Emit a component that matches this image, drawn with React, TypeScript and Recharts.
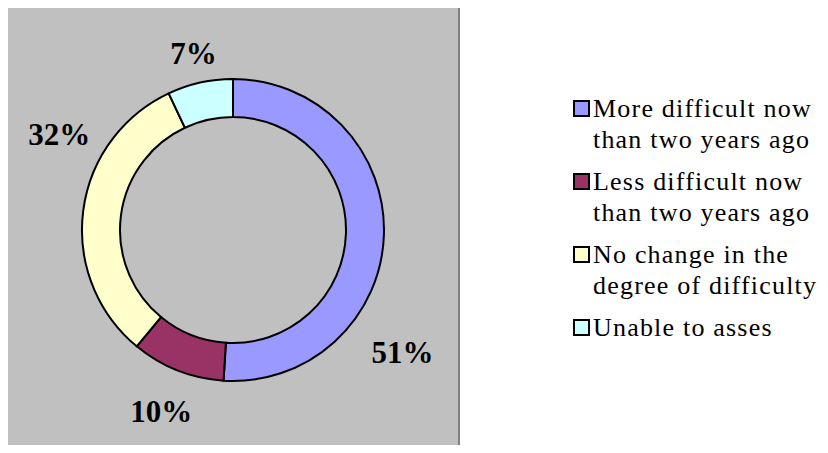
import React from "react";
import { PieChart, Pie, Cell, Legend } from "recharts";

const categories = [
  "More difficult now\nthan two years ago",
  "Less difficult now\nthan two years ago",
  "No change in the\ndegree of difficulty",
  "Unable to asses",
];
const values = [51, 10, 32, 7];
const colors = ["#9999FF", "#993366", "#FFFFCC", "#CCFFFF"];

const data = categories.map((name, i) => ({ name, value: values[i], fill: colors[i] }));

const RAD = Math.PI / 180;
// label placement tweaks (radial offset beyond outer radius, angular offset)
const labelPlace = [
  { dr: 58, da: -34 },
  { dr: 44, da: 0 },
  { dr: 47, da: -21.5 },
  { dr: 30, da: 0 },
];

const renderLabel = (props: any) => {
  const { cx, cy, midAngle, outerRadius, percent, index } = props;
  const p = labelPlace[index] || { dr: 30, da: 0 };
  const r = outerRadius + p.dr;
  const a = (midAngle + p.da) * RAD;
  const x = cx + r * Math.cos(-a);
  const y = cy + r * Math.sin(-a);
  return (
    <text
      x={x}
      y={y}
      textAnchor="middle"
      dominantBaseline="central"
      fontFamily="Liberation Serif"
      fontWeight="bold"
      fontSize={31}
      fill="#000"
    >
      {`${Math.round(percent * 100)}%`}
    </text>
  );
};

const LegendContent = () => (
  <div style={{ fontFamily: "'Liberation Serif'", fontSize: 26, letterSpacing: 1.2, color: "#000" }}>
    {categories.map((c, i) => (
      <div key={i} style={{ display: "flex", alignItems: "flex-start", marginBottom: 11 }}>
        <div
          style={{
            width: 17,
            height: 17,
            boxSizing: "border-box",
            border: "2px solid #000",
            background: colors[i],
            marginTop: 7,
            marginRight: 3,
            flexShrink: 0,
          }}
        />
        <div style={{ whiteSpace: "pre-line", lineHeight: "31px" }}>{c}</div>
      </div>
    ))}
  </div>
);

export default function App() {
  return (
    <div style={{ position: "relative", width: 828, height: 453, margin: -8, overflow: "hidden" }}>
      <div
        style={{
          position: "absolute",
          left: 6,
          top: 5,
          width: 454,
          height: 460,
          boxSizing: "border-box",
          background: "#C0C0C0",
          borderLeft: "2px solid #808080",
          borderRight: "2px solid #808080",
          borderTop: "1px solid #9a9a9a",
        }}
      />
      <PieChart width={828} height={453} margin={{ top: 0, right: 0, bottom: 0, left: 0 }}>
        <Pie
          data={data}
          dataKey="value"
          nameKey="name"
          cx={233}
          cy={230}
          innerRadius={113}
          outerRadius={151}
          startAngle={90}
          endAngle={-270}
          stroke="#000"
          strokeWidth={2}
          label={renderLabel}
          labelLine={false}
          isAnimationActive={false}
        >
          {data.map((d, i) => (
            <Cell key={i} fill={colors[i]} stroke="#000" strokeWidth={2} />
          ))}
        </Pie>
        <Legend
          content={LegendContent}
          wrapperStyle={{ position: "absolute", left: 573, top: 93, width: 255, height: 260 }}
        />
      </PieChart>
    </div>
  );
}
